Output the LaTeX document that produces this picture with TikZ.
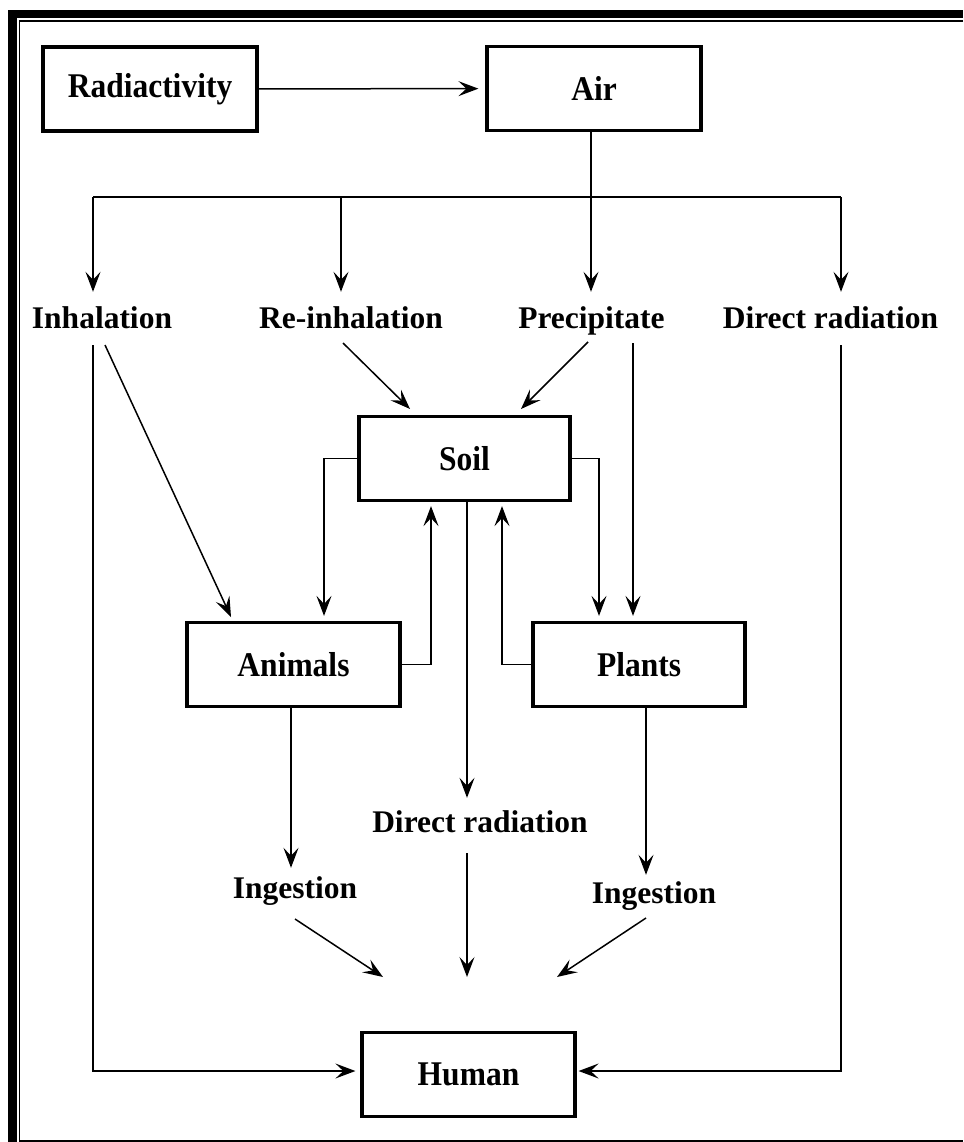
\documentclass[tikz,border=0pt]{standalone}
\usepackage{fontspec}
\setmainfont{Liberation Serif}
\usetikzlibrary{arrows.meta}
\newcommand\lblfont{\fontsize{31.5}{38}\selectfont\bfseries}
\newcommand\boxtxt[1]{\scalebox{1}[1.1]{#1}}
\begin{document}
\begin{tikzpicture}[x=1pt,y=-1pt,
  box/.style={draw, line width=3.2pt, minimum width=#1, minimum height=84pt, inner sep=0pt, font=\lblfont},
  lab/.style={inner sep=0pt, text height=24pt, text depth=7pt, font=\lblfont},
  plain/.style={line width=1.5pt},
  conn/.style={line width=1.5pt, -{Stealth[length=20pt,width=15pt,inset=8pt]}}]
\useasboundingbox (0,0) rectangle (963,1142);
% frame
\fill (8,10) rectangle (17,1142);
\fill (8,10) rectangle (963,18);
\draw[line width=1.5pt] (963,21) -- (19.5,21) -- (19.5,1141) -- (963,1141);

% boxes
\node[box=214pt] (rad) at (150,89) {\boxtxt{Radiactivity}};
\node[box=214pt] (air) at (594,88.5) {\boxtxt{Air}};
\node[box=211pt] (soil) at (464.5,458.5) {\boxtxt{Soil}};
\node[box=213pt] (animals) at (293.5,664.5) {\boxtxt{Animals}};
\node[box=212pt] (plants) at (639,664.5) {\boxtxt{Plants}};
\node[box=213pt] (human) at (468.5,1074.5) {\boxtxt{Human}};

% labels
\node[lab] (inh) at (102,319.5) {Inhalation};
\node[lab] (reinh) at (351,319.5) {Re-inhalation};
\node[lab] (precip) at (591.5,319.5) {Precipitate};
\node[lab] (dr1) at (830.5,319.5) {Direct radiation};
\node[lab] (dr2) at (480,823.5) {Direct radiation};
\node[lab] (ing1) at (295,889.5) {Ingestion};
\node[lab] (ing2) at (654,894.5) {Ingestion};

% helper coordinates
\coordinate (hL) at (93,197);
\coordinate (hRe) at (341,197);
\coordinate (hP) at (591,197);
\coordinate (hR) at (841,197);
\coordinate (bL) at (93,1071);
\coordinate (bR) at (841,1071);
\coordinate (inhD) at (105,345);
\coordinate (aniIn) at (231,617);
\coordinate (reD) at (343,343);
\coordinate (soilInL) at (410,409);
\coordinate (prD) at (588,342);
\coordinate (soilInR) at (521,409);
\coordinate (prV) at (633,343);
\coordinate (sL) at (324,458.5);
\coordinate (aR) at (431,664.5);
\coordinate (sR) at (599,458.5);
\coordinate (pL) at (502,664.5);
\coordinate (sD) at (467,501);
\coordinate (aD) at (291,707);
\coordinate (pD) at (646,707);
\coordinate (i1D) at (295,919);
\coordinate (huL) at (383,977);
\coordinate (drV) at (467,853);
\coordinate (huC) at (467,977);
\coordinate (i2D) at (646,918);
\coordinate (huR) at (557,977);

% connectors
\draw[conn, shorten >=7pt] (rad) -- (air);
\draw[plain] (hP |- air.south) -- (hP);
\draw[plain] (hL) -- (hR);
\foreach \c in {hL,hRe,hP,hR}
  \draw[conn, shorten >=12pt] (\c) -- (\c |- inh.north);

\draw[conn, shorten <=10pt, shorten >=5pt] (hL |- inh.south) -- (bL) -- (bL -| human.west);
\draw[conn, shorten <=10pt, shorten >=2pt] (hR |- dr1.south) -- (bR) -- (bR -| human.east);

\draw[conn] (inhD) -- (aniIn);
\draw[conn] (reD) -- (soilInL);
\draw[conn] (prD) -- (soilInR);
\draw[conn, shorten >=5pt] (prV) -- (prV |- plants.north);

\draw[conn, shorten >=5pt] (soil.west) -- (sL) -- (sL |- animals.north);
\draw[conn, shorten >=4pt] (animals.east) -- (aR) -- (aR |- soil.south);
\draw[conn, shorten >=5pt] (soil.east) -- (sR) -- (sR |- plants.north);
\draw[conn, shorten >=4pt] (plants.west) -- (pL) -- (pL |- soil.south);

\draw[conn, shorten >=10pt] (sD) -- (sD |- dr2.north);
\draw[conn, shorten >=6pt] (aD) -- (aD |- ing1.north);
\draw[conn, shorten >=4pt] (pD) -- (pD |- ing2.north);

\draw[conn] (i1D) -- (huL);
\draw[conn] (drV) -- (huC);
\draw[conn] (i2D) -- (huR);
\end{tikzpicture}
\end{document}
